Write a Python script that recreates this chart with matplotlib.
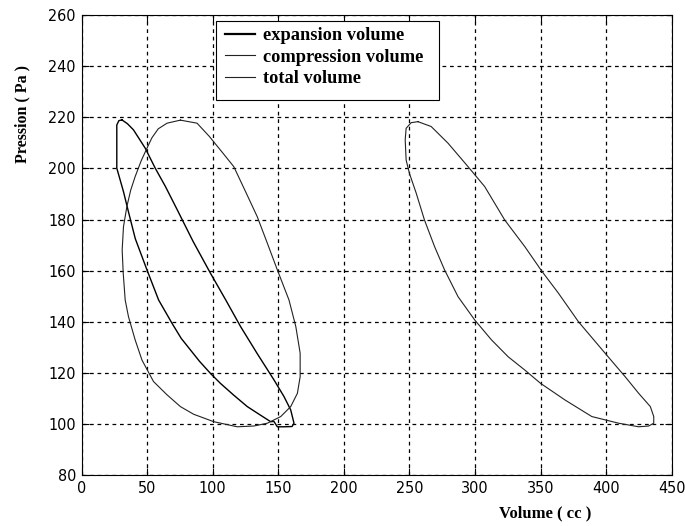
import matplotlib
matplotlib.use('Agg')
import matplotlib.pyplot as plt
from matplotlib import font_manager
from matplotlib.patches import Rectangle

# expansion volume loop (cc, Pa)
exp_vol = [30.8, 35.0, 39.6, 48.6, 56.2, 64.0, 72.8, 85.0, 98.3, 110.0, 121.3, 134.0,
           146.8, 154.4, 159.5, 162.0, 160.5, 154.4, 149.3, 146.7, 144.2, 136.0, 126.4,
           116.0, 105.9, 98.3, 90.0, 83.0, 76.0, 69.0, 58.8, 49.9, 41.0, 35.8, 32.0,
           26.9, 26.9, 28.5, 30.8]
exp_p = [219.0, 217.5, 215.1, 207.9, 200.1, 192.9, 184.0, 171.5, 159.0, 148.5, 138.1, 127.5,
         117.2, 110.7, 105.5, 100.3, 99.0, 98.9, 98.9, 101.0, 100.9, 103.6, 106.8,
         111.3, 115.9, 119.8, 124.5, 129.0, 133.5, 139.4, 148.5, 160.3, 172.5, 183.0, 190.9,
         200.1, 217.0, 218.7, 219.0]

# compression volume loop
comp_vol = [75.4, 88.1, 97.5, 107.0, 116.1, 125.0, 134.0, 142.0, 149.3, 158.2, 163.4,
            166.7, 166.7, 164.6, 159.5, 151.9, 141.7, 131.4, 118.7, 100.8, 85.5, 75.4,
            65.0, 54.9, 46.1, 40.9, 35.8, 33.3, 31.8, 31.0, 32.0, 34.6, 37.5, 40.9,
            45.5, 49.9, 53.7, 58.5, 65.2, 75.4]
comp_p = [218.9, 217.7, 212.5, 206.5, 200.7, 191.0, 181.1, 170.3, 160.3, 148.5, 138.1,
          127.7, 118.5, 112.0, 106.8, 102.9, 100.3, 99.2, 98.9, 100.9, 103.8, 106.8,
          111.5, 116.6, 125.0, 132.9, 142.0, 148.5, 159.0, 168.1, 177.2, 185.1, 191.5, 196.8,
          203.0, 207.9, 212.0, 215.5, 217.7, 218.9]

# total volume loop
tot_vol = [256.5, 266.6, 279.4, 294.7, 307.4, 322.7, 338.0, 350.8, 363.6, 378.9, 399.2,
           414.5, 424.8, 433.7, 436.3, 436.3, 432.4, 424.8, 409.5, 389.1, 368.6, 350.0,
           338.0, 325.3, 312.6, 299.8, 287.1, 276.8, 269.2, 261.5, 255.2, 250.0, 247.5,
           246.8, 247.5, 251.3, 256.5]
tot_p = [218.3, 216.4, 209.9, 200.7, 192.9, 179.8, 169.4, 159.9, 151.2, 140.0, 127.7,
         118.5, 112.0, 106.8, 102.9, 100.3, 99.2, 98.9, 100.3, 102.9, 109.4, 115.9,
         121.1, 126.3, 132.9, 140.7, 149.8, 160.3, 169.4, 179.8, 190.3, 198.1, 203.3,
         211.2, 215.7, 217.9, 218.3]

labels = ['expansion volume', 'compression volume', 'total volume']
xticks = list(range(0, 451, 50))
yticks = list(range(80, 261, 20))

# narrow sans for the tick numbers if one is around
tick_file = None
for f in font_manager.fontManager.ttflist:
    if f.name == 'Liberation Sans Narrow' and f.weight in (400, 'normal') and f.style == 'normal':
        tick_file = f.fname
        break
if tick_file is None:
    for f in font_manager.fontManager.ttflist:
        if f.name == 'DejaVu Sans' and f.stretch == 'condensed' and f.weight in (400, 'normal') and f.style == 'normal':
            tick_file = f.fname
            break
if tick_file:
    tick_prop = font_manager.FontProperties(fname=tick_file, size=11.5)
else:
    tick_prop = font_manager.FontProperties(family='Liberation Sans', size=11)
serif = 'Liberation Serif'

fig = plt.figure(figsize=(6.85, 5.26), dpi=100)
ax = fig.add_axes([0.119, 0.0968, 0.8616, 0.8745])

ax.plot(exp_vol, exp_p, color='black', lw=1.0, label=labels[0])
ax.plot(comp_vol, comp_p, color='#222222', lw=0.8, label=labels[1])
ax.plot(tot_vol, tot_p, color='#222222', lw=0.8, label=labels[2])

ax.set_xlim(0, 450)
ax.set_ylim(80, 260)
ax.set_xticks(xticks)
ax.set_yticks(yticks)
ax.grid(True, color='black', linestyle=(0, (3, 3)), lw=0.9)
ax.set_axisbelow(True)
ax.tick_params(direction='in', length=5, top=True, right=True, pad=4)
for lab in ax.get_xticklabels() + ax.get_yticklabels():
    lab.set_fontproperties(tick_prop)
for sp in ax.spines.values():
    sp.set_linewidth(0.8)

ax.set_xlabel('Volume ( cc )', family=serif, fontweight='bold', fontsize=12)
ax.xaxis.set_label_coords(0.785, -0.065)
ax.set_ylabel('Pression ( Pa )', family=serif, fontweight='bold', fontsize=11.5)
ax.yaxis.set_label_coords(-0.086, 0.786)

# legend box (wider on the right, as in the original)
ax.add_patch(Rectangle((0.228, 0.815), 0.378, 0.172, transform=ax.transAxes,
                       facecolor='white', edgecolor='black', lw=0.8, zorder=4))
leg = ax.legend(loc='upper left', bbox_to_anchor=(0.228, 0.9935), borderaxespad=0,
                prop={'family': serif, 'weight': 'bold', 'size': 13.2},
                frameon=False, handlelength=1.65, handletextpad=0.4,
                labelspacing=0.25, borderpad=0.5)
leg.set_zorder(5)
leg.get_lines()[0].set_linewidth(1.6)

fig.savefig('out.png', dpi=100)
